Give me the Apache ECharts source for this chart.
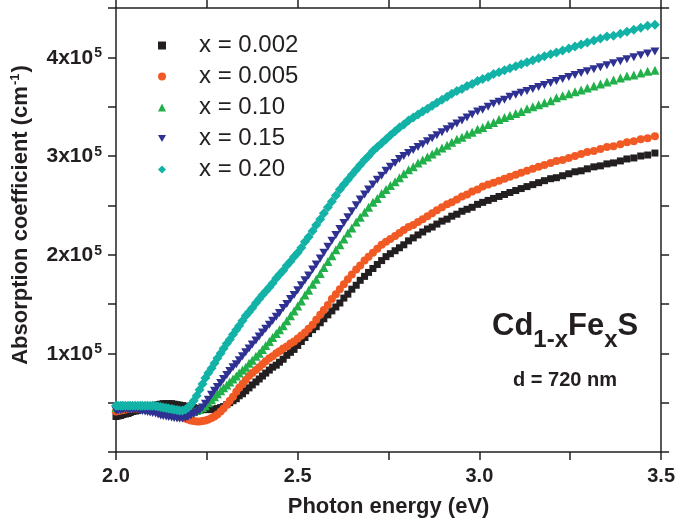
<!DOCTYPE html>
<html>
<head>
<meta charset="utf-8">
<script src="https://cdn.jsdelivr.net/npm/echarts@6/dist/echarts.min.js"></script>
<style>
html,body{margin:0;padding:0;background:#fff;}
#chart{width:678px;height:523px;}
</style>
</head>
<body>
<div id="chart"></div>
<script>
// Photon energy (eV) of each measured point
const photonEnergy = [
2.000,2.006,2.013,2.019,2.026,2.033,2.039,2.046,2.053,2.060,
2.067,2.073,2.080,2.087,2.094,2.101,2.109,2.116,2.123,2.130,
2.138,2.145,2.153,2.160,2.168,2.175,2.183,2.191,2.198,2.206,
2.214,2.222,2.230,2.238,2.246,2.254,2.263,2.271,2.279,2.288,
2.296,2.305,2.313,2.322,2.331,2.339,2.348,2.357,2.366,2.375,
2.385,2.394,2.403,2.412,2.422,2.431,2.441,2.450,2.460,2.470,
2.480,2.490,2.500,2.510,2.520,2.530,2.541,2.551,2.562,2.572,
2.583,2.594,2.605,2.616,2.627,2.638,2.649,2.661,2.672,2.684,
2.695,2.707,2.719,2.731,2.743,2.755,2.768,2.780,2.792,2.805,
2.818,2.831,2.844,2.857,2.870,2.883,2.897,2.911,2.924,2.938,
2.952,2.966,2.980,2.995,3.009,3.024,3.039,3.054,3.069,3.084,
3.100,3.115,3.131,3.147,3.163,3.179,3.196,3.212,3.229,3.246,
3.263,3.280,3.297,3.315,3.333,3.351,3.369,3.388,3.406,3.425,
3.444,3.463,3.483,3.502];

// Absorption coefficient, in units of 10^5 cm^-1
const alphaX0002 = [
0.36,0.365,0.37,0.38,0.385,0.39,0.40,0.41,0.415,0.42,
0.43,0.44,0.45,0.455,0.46,0.47,0.475,0.48,0.485,0.49,
0.49,0.49,0.49,0.485,0.48,0.475,0.47,0.465,0.46,0.455,
0.45,0.44,0.435,0.43,0.43,0.43,0.43,0.435,0.44,0.45,
0.46,0.48,0.50,0.52,0.54,0.57,0.59,0.62,0.65,0.68,
0.71,0.74,0.77,0.80,0.83,0.86,0.88,0.91,0.94,0.98,
1.01,1.04,1.08,1.12,1.16,1.20,1.24,1.27,1.31,1.35,
1.39,1.43,1.47,1.51,1.56,1.60,1.65,1.69,1.74,1.78,
1.82,1.86,1.90,1.94,1.98,2.01,2.04,2.07,2.10,2.14,
2.17,2.20,2.23,2.26,2.28,2.31,2.34,2.36,2.39,2.41,
2.44,2.46,2.48,2.51,2.53,2.55,2.57,2.59,2.61,2.63,
2.65,2.67,2.69,2.71,2.73,2.75,2.77,2.78,2.80,2.82,
2.84,2.85,2.87,2.89,2.90,2.92,2.93,2.95,2.97,2.98,
3.00,3.01,3.03,3.04];

const alphaX0005 = [
0.41,0.415,0.42,0.425,0.43,0.435,0.44,0.44,0.44,0.44,
0.44,0.44,0.44,0.44,0.44,0.435,0.43,0.425,0.42,0.415,
0.41,0.40,0.39,0.38,0.37,0.36,0.35,0.34,0.33,0.32,
0.315,0.31,0.31,0.315,0.32,0.33,0.345,0.36,0.38,0.41,
0.44,0.48,0.52,0.56,0.61,0.65,0.69,0.73,0.77,0.80,
0.83,0.86,0.89,0.92,0.95,0.97,1.00,1.02,1.05,1.07,
1.10,1.12,1.15,1.18,1.21,1.25,1.29,1.34,1.39,1.44,
1.49,1.55,1.60,1.65,1.70,1.75,1.80,1.85,1.89,1.94,
1.98,2.02,2.06,2.10,2.13,2.16,2.19,2.22,2.25,2.28,
2.30,2.33,2.36,2.39,2.42,2.45,2.48,2.51,2.53,2.56,
2.59,2.61,2.64,2.66,2.69,2.71,2.73,2.75,2.77,2.79,
2.81,2.83,2.85,2.87,2.89,2.91,2.93,2.95,2.96,2.98,
3.00,3.02,3.04,3.05,3.07,3.09,3.10,3.12,3.14,3.15,
3.17,3.18,3.20,3.21];

const alphaX010 = [
0.45,0.45,0.455,0.455,0.46,0.46,0.46,0.46,0.46,0.46,
0.455,0.455,0.45,0.45,0.445,0.44,0.435,0.43,0.425,0.42,
0.415,0.41,0.405,0.40,0.40,0.395,0.395,0.395,0.40,0.405,
0.41,0.42,0.43,0.45,0.47,0.50,0.53,0.56,0.59,0.62,
0.65,0.68,0.71,0.74,0.77,0.80,0.83,0.86,0.90,0.93,
0.97,1.00,1.04,1.08,1.12,1.16,1.20,1.24,1.28,1.33,
1.38,1.43,1.48,1.53,1.59,1.64,1.70,1.75,1.81,1.87,
1.93,1.99,2.05,2.10,2.16,2.22,2.27,2.33,2.38,2.43,
2.48,2.53,2.57,2.62,2.66,2.70,2.74,2.78,2.82,2.86,
2.89,2.93,2.96,2.99,3.02,3.05,3.08,3.11,3.14,3.17,
3.19,3.22,3.24,3.27,3.29,3.32,3.34,3.37,3.39,3.41,
3.43,3.45,3.48,3.50,3.52,3.54,3.56,3.59,3.61,3.63,
3.65,3.67,3.69,3.71,3.73,3.75,3.77,3.79,3.81,3.82,
3.84,3.86,3.87,3.89];

const alphaX015 = [
0.42,0.42,0.425,0.43,0.43,0.43,0.43,0.43,0.43,0.425,
0.42,0.415,0.41,0.405,0.40,0.395,0.39,0.38,0.37,0.365,
0.36,0.355,0.35,0.345,0.34,0.34,0.34,0.345,0.355,0.37,
0.385,0.40,0.42,0.45,0.49,0.53,0.58,0.62,0.66,0.70,
0.74,0.78,0.82,0.86,0.89,0.93,0.97,1.01,1.05,1.09,
1.13,1.17,1.21,1.25,1.29,1.33,1.37,1.41,1.46,1.50,
1.55,1.59,1.64,1.69,1.74,1.79,1.85,1.90,1.96,2.02,
2.08,2.14,2.20,2.26,2.32,2.38,2.44,2.50,2.56,2.61,
2.66,2.71,2.76,2.80,2.85,2.89,2.93,2.97,3.00,3.03,
3.06,3.09,3.12,3.15,3.18,3.21,3.24,3.27,3.30,3.33,
3.36,3.39,3.42,3.45,3.47,3.50,3.53,3.55,3.57,3.60,
3.62,3.64,3.66,3.68,3.70,3.72,3.74,3.76,3.78,3.80,
3.82,3.84,3.86,3.88,3.90,3.92,3.94,3.96,3.98,4.00,
4.02,4.04,4.06,4.08];

const alphaX020 = [
0.47,0.47,0.47,0.47,0.47,0.47,0.47,0.47,0.47,0.47,
0.47,0.47,0.47,0.47,0.47,0.47,0.465,0.46,0.455,0.45,
0.445,0.44,0.435,0.43,0.425,0.42,0.42,0.43,0.45,0.48,
0.52,0.57,0.63,0.69,0.75,0.80,0.85,0.90,0.95,1.00,
1.05,1.10,1.14,1.19,1.24,1.28,1.33,1.38,1.42,1.46,
1.51,1.55,1.59,1.63,1.67,1.71,1.76,1.80,1.84,1.89,
1.93,1.98,2.02,2.07,2.13,2.18,2.24,2.30,2.36,2.42,
2.48,2.54,2.60,2.66,2.71,2.76,2.81,2.86,2.91,2.96,
3.00,3.05,3.09,3.13,3.17,3.21,3.25,3.29,3.32,3.36,
3.39,3.42,3.45,3.48,3.51,3.54,3.57,3.60,3.63,3.66,
3.68,3.71,3.73,3.76,3.78,3.80,3.83,3.85,3.87,3.89,
3.91,3.93,3.95,3.97,3.99,4.01,4.03,4.05,4.07,4.09,
4.11,4.13,4.15,4.17,4.19,4.21,4.22,4.24,4.26,4.28,
4.30,4.32,4.33,4.35];

const seriesNames = ['x = 0.002', 'x = 0.005', 'x = 0.10', 'x = 0.15', 'x = 0.20'];
const seriesValues = [alphaX0002, alphaX0005, alphaX010, alphaX015, alphaX020];
const xTickLabels = ['2.0', '2.5', '3.0', '3.5'];
const yTickLabels = ['1', '2', '3', '4'];

const colors = ['#231f20', '#f15a24', '#22b04b', '#2e3192', '#13b2a7'];
const symbols = ['rect', 'circle', 'triangle', 'path://M0,0 L10,0 L5,8.66 Z', 'diamond'];
const sizes = [7, 8, 9, [9, 8], 10];
const legendSizes = [7, 8, 8, 8, 9];

const FONT = '"Liberation Sans", Arial, sans-serif';
const INK = '#231f20';

const chart = echarts.init(document.getElementById('chart'), null, {renderer: 'canvas'});

const axisCommon = {
  axisLine: {show: true, onZero: false, lineStyle: {color: INK, width: 1.5}},
  axisTick: {show: true, inside: false, length: 8, lineStyle: {color: INK, width: 1.5}},
  splitLine: {show: false}
};

// measure text widths for the composite formula label
const mctx = document.createElement('canvas').getContext('2d');
function textW(str, size) {
  mctx.font = 'bold ' + size + 'px ' + FONT;
  return mctx.measureText(str).width;
}
const formulaParts = [
  {t: 'Cd', sub: false}, {t: '1-x', sub: true}, {t: 'Fe', sub: false}, {t: 'x', sub: true}, {t: 'S', sub: false}
];
const MAIN_SIZE = 31, SUB_SIZE = 24;
let fx = 492;
const formulaGraphics = formulaParts.map(function (p) {
  const size = p.sub ? SUB_SIZE : MAIN_SIZE;
  const g = {
    type: 'text', x: fx, y: p.sub ? 340 : 326,
    style: {text: p.t, fontFamily: FONT, fontSize: size, fontWeight: 'bold', fill: INK,
            textAlign: 'left', textVerticalAlign: 'middle'},
    z: 10
  };
  fx += textW(p.t, size);
  return g;
});

const option = {
  backgroundColor: '#ffffff',
  animation: false,
  grid: {left: 116, right: 15, top: 8, bottom: 69, containLabel: false},
  legend: {
    data: seriesNames.map(function (n, i) { return {name: n, itemStyle: {color: colors[i]}}; }),
    orient: 'vertical',
    left: 158,
    top: 30,
    padding: 0,
    itemGap: 0,
    itemWidth: 8,
    itemHeight: 8,
    textStyle: {fontFamily: FONT, fontSize: 24, color: INK, lineHeight: 31, padding: [0, 0, 0, 28]}
  },
  xAxis: [
    Object.assign({}, axisCommon, {
      type: 'value', min: 2, max: 3.5, interval: 0.25, position: 'bottom',
      name: 'Photon energy (eV)', nameLocation: 'middle', nameGap: 44,
      nameTextStyle: {fontFamily: FONT, fontSize: 22, fontWeight: 'bold', color: INK},
      axisLabel: {
        margin: 14, fontFamily: FONT, fontSize: 20, fontWeight: 'bold', color: INK,
        formatter: function (v) {
          const lbl = v.toFixed(1);
          return (Math.abs(v * 2 - Math.round(v * 2)) < 1e-6 && xTickLabels.indexOf(lbl) >= 0) ? lbl : '';
        }
      }
    }),
    Object.assign({}, axisCommon, {
      type: 'value', min: 2, max: 3.5, interval: 0.25, position: 'top',
      axisLabel: {show: false}
    })
  ],
  yAxis: [
    Object.assign({}, axisCommon, {
      type: 'value', min: 0, max: 4.5, interval: 0.5, position: 'left',
      axisLabel: {
        margin: 14,
        formatter: function (v) {
          const s = String(Math.round(v));
          return (Math.abs(v - Math.round(v)) < 1e-6 && yTickLabels.indexOf(s) >= 0) ? '{a|' + s + 'x10}{b|5}' : '';
        },
        rich: {
          a: {fontFamily: FONT, fontSize: 21, fontWeight: 'bold', color: INK, lineHeight: 22, verticalAlign: 'bottom'},
          b: {fontFamily: FONT, fontSize: 14, fontWeight: 'bold', color: INK, lineHeight: 14, padding: [0, 0, 13, 1], verticalAlign: 'top'}
        }
      }
    }),
    Object.assign({}, axisCommon, {
      type: 'value', min: 0, max: 4.5, interval: 0.5, position: 'right',
      axisLabel: {show: false}
    })
  ],
  series: seriesNames.map(function (name, i) {
    return {
      name: name,
      type: 'scatter',
      xAxisIndex: 0,
      yAxisIndex: 0,
      symbol: symbols[i],
      symbolSize: sizes[i],
      itemStyle: {color: colors[i], opacity: 1},
      emphasis: {disabled: true},
      clip: true,
      data: photonEnergy.map(function (e, j) { return [e, seriesValues[i][j]]; }),
      z: 2 + i
    };
  }),
  graphic: [
    {
      type: 'text', x: 20, y: 215, rotation: Math.PI / 2,
      style: {
        text: '{m|Absorption coefficient (cm}{s|-1}{m|)}',
        textAlign: 'center', textVerticalAlign: 'middle',
        rich: {
          m: {fontFamily: FONT, fontSize: 22, fontWeight: 'bold', fill: INK, lineHeight: 23, verticalAlign: 'bottom'},
          s: {fontFamily: FONT, fontSize: 13, fontWeight: 'bold', fill: INK, lineHeight: 13, padding: [0, 1, 13, 1], verticalAlign: 'top'}
        }
      },
      z: 10
    },
    {
      type: 'text', x: 565, y: 380,
      style: {
        text: 'd = 720 nm', fontFamily: FONT, fontSize: 20, fontWeight: 'bold', fill: INK,
        textAlign: 'center', textVerticalAlign: 'middle'
      },
      z: 10
    }
  ].concat(formulaGraphics)
};

chart.setOption(option);
</script>
</body>
</html>
